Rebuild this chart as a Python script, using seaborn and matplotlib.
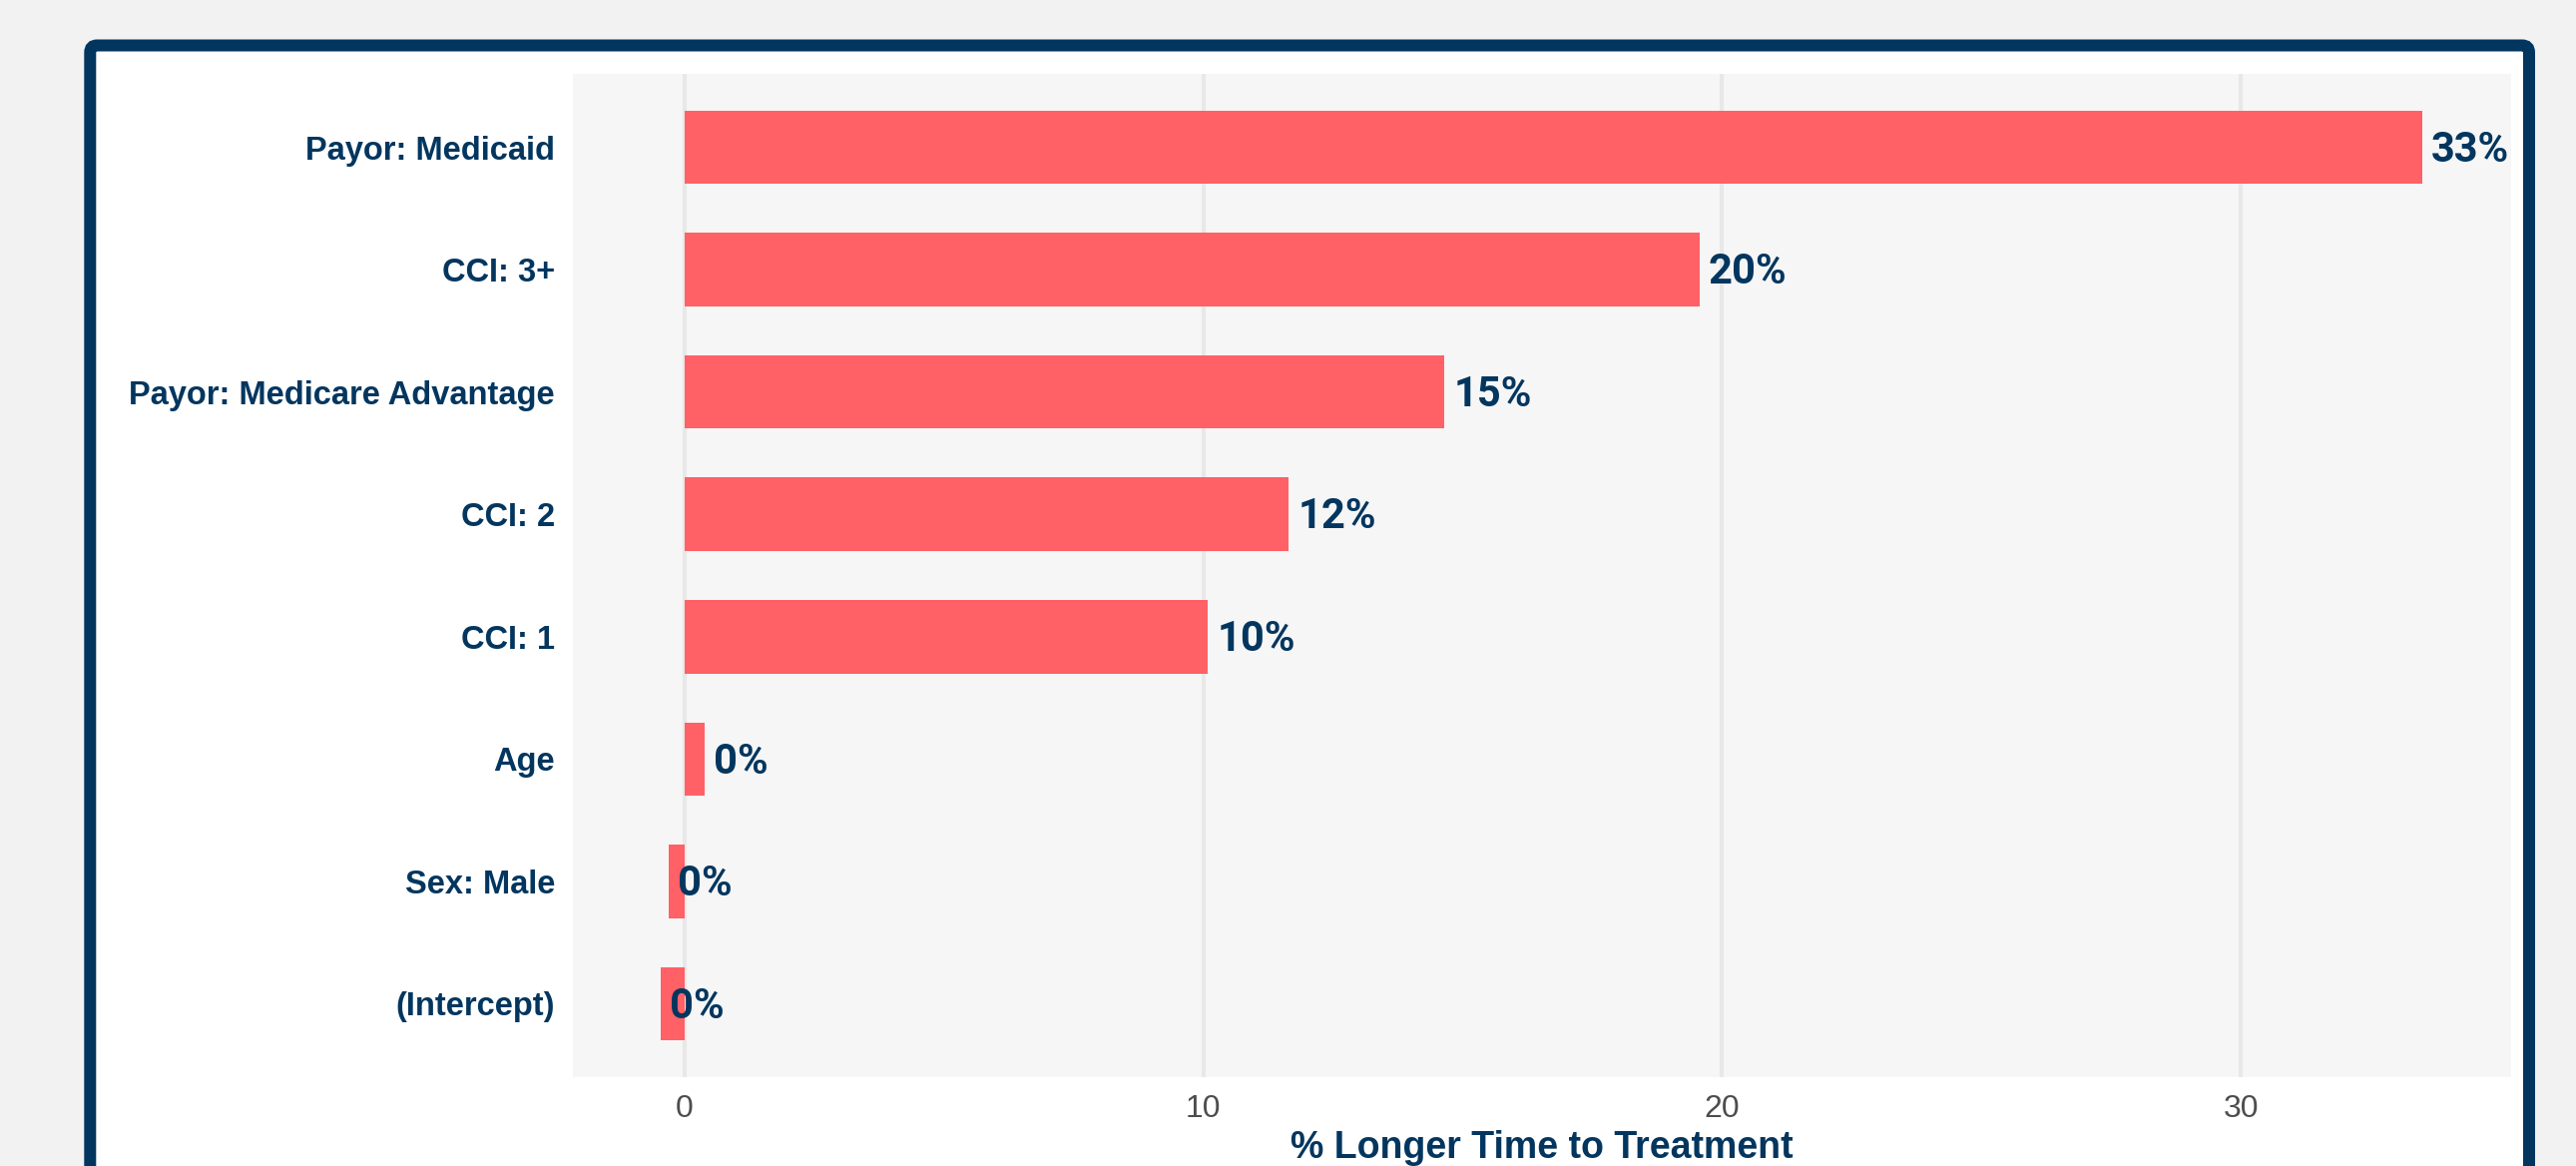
import matplotlib
matplotlib.use("Agg")
import matplotlib.pyplot as plt
import seaborn as sns
import pandas as pd
from matplotlib.patches import FancyBboxPatch

# ---- data ----
categories = ["Payor: Medicaid", "CCI: 3+", "Payor: Medicare Advantage", "CCI: 2",
              "CCI: 1", "Age", "Sex: Male", "(Intercept)"]
pct_longer = [33.5, 19.56, 14.65, 11.65, 10.09, 0.39, -0.31, -0.47]
bar_labels = ["33%", "20%", "15%", "12%", "10%", "0%", "0%", "0%"]
x_ticks = [0, 10, 20, 30]
x_title = "% Longer Time to Treatment"

NAVY = "#03365f"
BAR = "#ff6166"

df = pd.DataFrame({"term": categories, "pct": pct_longer})

sns.set_theme(style="white")
plt.rcParams["font.family"] = ["Liberation Sans", "DejaVu Sans"]

W, H, DPI = 2581, 1168, 100
fig = plt.figure(figsize=(W / DPI, H / DPI), dpi=DPI, facecolor="#f2f2f2")

# framed white card
card = FancyBboxPatch((90.3 / DPI, -1.0), (2534 - 90.3) / DPI, (H - 45.5) / DPI + 1.0,
                      boxstyle="round,pad=0,rounding_size=0.07",
                      transform=fig.dpi_scale_trans, facecolor="white",
                      edgecolor=NAVY, linewidth=12 * 72 / DPI, zorder=-5)
fig.add_artist(card)

ax_l, ax_r, ax_t, ax_b = 574, 2516, 74, 1079
ax = fig.add_axes([ax_l / W, (H - ax_b) / H, (ax_r - ax_l) / W, (ax_b - ax_t) / H])
ax.set_facecolor("#f6f6f6")

sns.barplot(data=df, x="pct", y="term", orient="h", color=BAR, saturation=1,
            width=0.6, linewidth=0, ax=ax, zorder=2)

x0_px = 686
ppu = 51.97
ax.set_xlim((ax_l - x0_px) / ppu, (ax_r - x0_px) / ppu)
ax.set_ylim(len(categories) - 1 + 0.6, -0.6)

ax.set_axisbelow(True)
ax.grid(axis="x", color="#e8e8e8", linewidth=2.9)
ax.grid(axis="y", visible=False)
for s in ax.spines.values():
    s.set_visible(False)

ax.set_xticks(x_ticks)
ax.set_xticklabels([str(t) for t in x_ticks])
ax.tick_params(axis="x", length=0, pad=12.5, labelsize=23, labelcolor="#4d4d4d")
ax.tick_params(axis="y", length=0, pad=13, labelsize=23.5, labelcolor=NAVY)
for lab in ax.get_yticklabels():
    lab.set_fontweight("bold")

ax.set_ylabel("")
ax.set_xlabel(x_title, fontsize=27, fontweight="bold", color=NAVY)
ax.xaxis.label.set_va("baseline")
ax.xaxis.set_label_coords(0.5, (ax_b - 1160) / (ax_b - ax_t))

for i, (v, lab) in enumerate(zip(pct_longer, bar_labels)):
    ax.annotate(lab, xy=(v, i), xytext=(6.5, -2.0), textcoords="offset points",
                ha="left", va="center", fontsize=30, fontweight="bold",
                color=NAVY, family=["Roboto", "DejaVu Sans"], zorder=5)

fig.savefig("out.png", dpi=DPI, facecolor=fig.get_facecolor())
